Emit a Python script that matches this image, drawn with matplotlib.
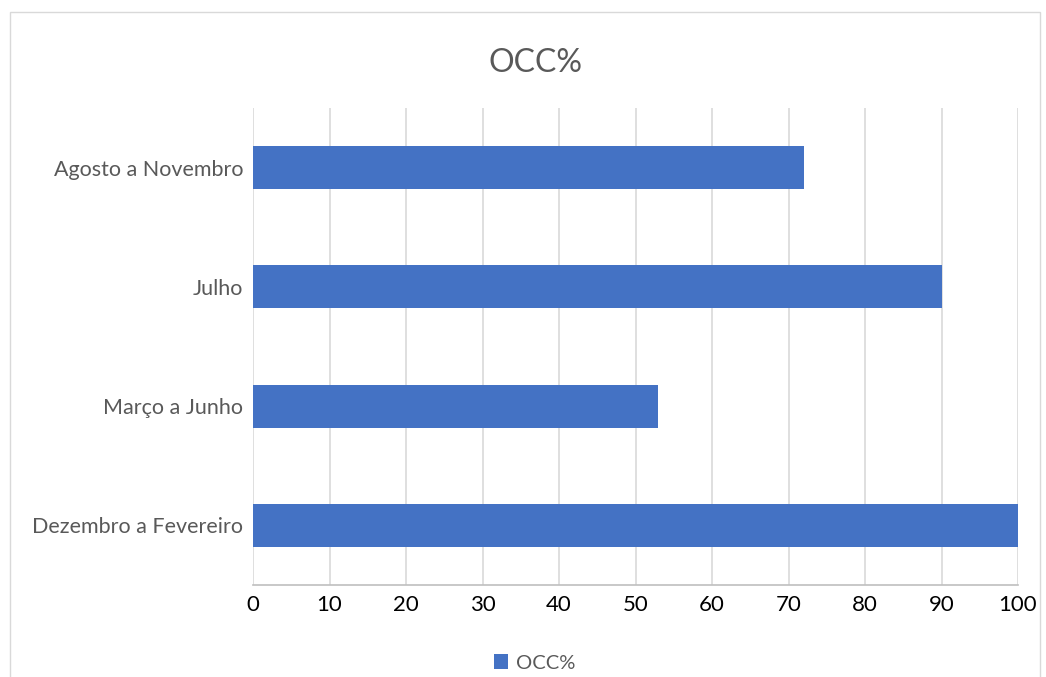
import matplotlib
matplotlib.use("Agg")
import matplotlib.pyplot as plt
from matplotlib.patches import Rectangle, Patch

categories = ["Dezembro a Fevereiro", "Março a Junho", "Julho", "Agosto a Novembro"]
occ = [100, 53, 90, 72]
xticks = list(range(0, 101, 10))

plt.rcParams["font.family"] = ["Lato", "DejaVu Sans"]

W, H = 1046, 677
fig = plt.figure(figsize=(W / 100, H / 100), dpi=100)

# chart frame
fig.patches.append(Rectangle((10 / W, -0.05), (1040 - 10) / W, (H - 12) / H + 0.05,
                             transform=fig.transFigure, fill=False,
                             edgecolor="#d9d9d9", linewidth=1.0))

ax = fig.add_axes([253 / W, (H - 585) / H, (1018 - 253) / W, (585 - 108) / H])
ypos = range(len(categories))
ax.barh(ypos, occ, height=0.36, color="#4472C4", zorder=3)

ax.set_xlim(0, 100)
ax.set_ylim(-0.5, len(categories) - 0.5)
ax.set_xticks(xticks)
ax.set_xticklabels([str(t) for t in xticks], fontsize=16, color="#000000")
ax.set_yticks(list(ypos))
ax.set_yticklabels(categories, fontsize=15.5, color="#595959")
ax.tick_params(axis="both", length=0)
ax.tick_params(axis="x", pad=7)
ax.tick_params(axis="y", pad=7)

ax.grid(axis="x", color="#d9d9d9", linewidth=1.2, zorder=0)
for s in ["top", "right", "left"]:
    ax.spines[s].set_visible(False)
ax.spines["bottom"].set_color("#bfbfbf")
ax.spines["bottom"].set_linewidth(1.2)

fig.text(535 / W, 1 - 63 / H, "OCC%", fontsize=23, color="#595959",
         ha="center", va="center")

handle = Patch(facecolor="#4472C4", edgecolor="none")
fig.legend([handle], ["OCC%"], loc="center", bbox_to_anchor=(535 / W, 1 - 663 / H),
           frameon=False, fontsize=14.5, labelcolor="#595959",
           handlelength=0.7, handleheight=0.7, handletextpad=0.4)

fig.savefig("out.png", dpi=100, facecolor="white")
